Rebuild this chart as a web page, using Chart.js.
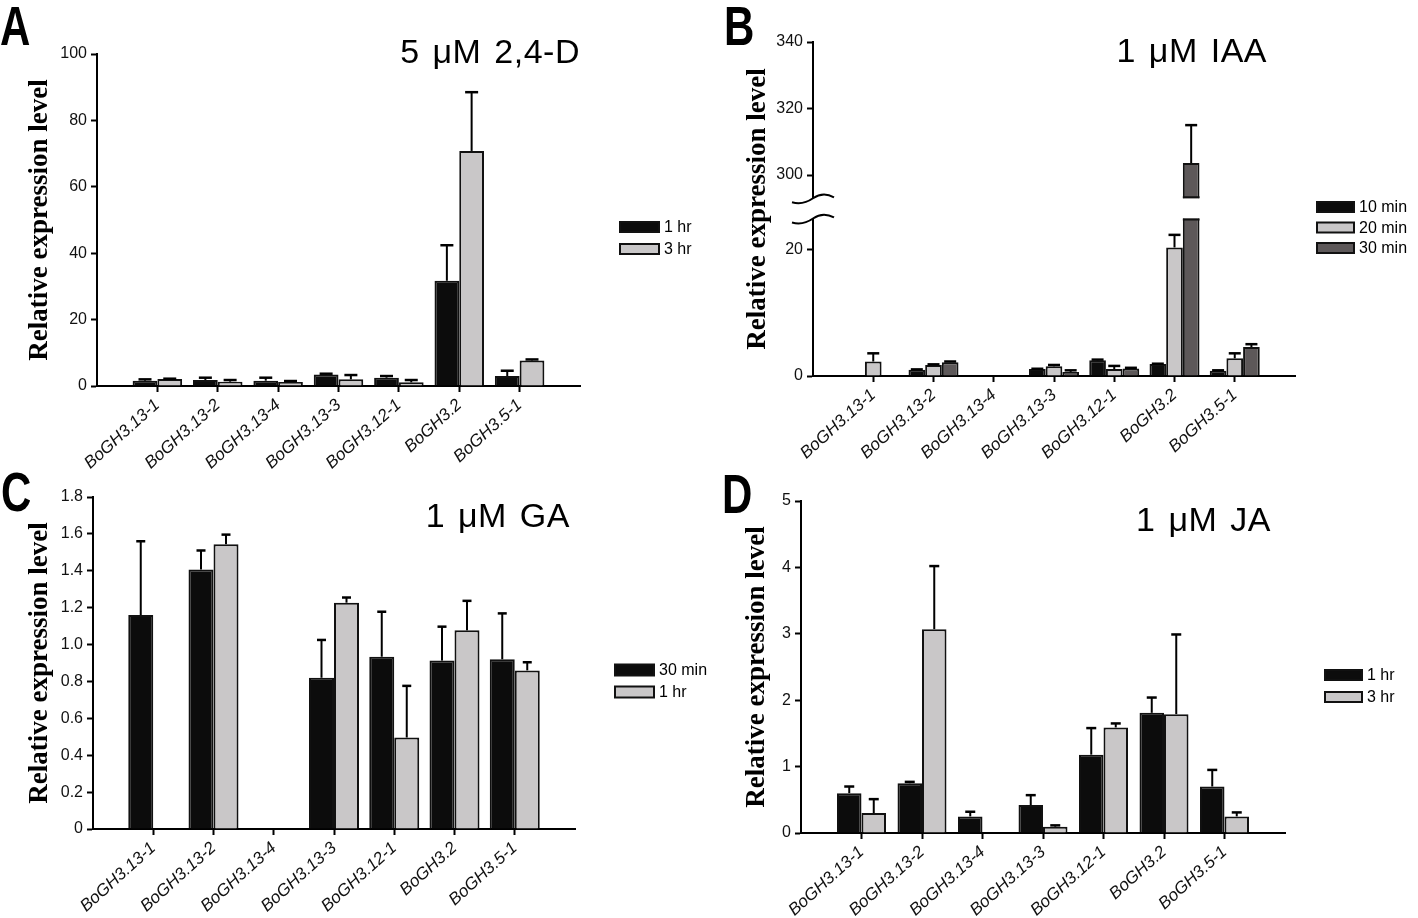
<!DOCTYPE html>
<html lang="en">
<head>
<meta charset="UTF-8">
<script src="https://cdn.jsdelivr.net/npm/chart.js"></script>
<style>
    body { margin: 0; padding: 0; width: 1418px; height: 918px; background: #fff; position: relative; overflow: hidden;
           font-family: 'Liberation Sans', Arial, sans-serif; }
    .panel { position: absolute; }
    .letter { position: absolute; font-weight: bold; font-size: 56px; line-height: 1; transform: scaleX(0.75); transform-origin: left top; color: #000; }
    .title { position: absolute; font-size: 34px; line-height: 1; letter-spacing: 0.5px; word-spacing: 3px; white-space: nowrap; color: #000; }
</style>
</head>
<body>

<div class="panel" style="left:0;top:0"><canvas id="chartA" width="709" height="470"></canvas></div>
<div class="panel" style="left:709px;top:0"><canvas id="chartB" width="709" height="470"></canvas></div>
<div class="panel" style="left:0;top:470px"><canvas id="chartC" width="709" height="448"></canvas></div>
<div class="panel" style="left:709px;top:470px"><canvas id="chartD" width="709" height="448"></canvas></div>

<div class="letter" style="left:0;top:-2px">A</div>
<div class="letter" style="left:724px;top:-2px">B</div>
<div class="letter" style="left:1px;top:464px">C</div>
<div class="letter" style="left:722px;top:466px">D</div>

<div class="title" style="right:838px;top:34px">5 μM 2,4-D</div>
<div class="title" style="right:151px;top:33px">1 μM IAA</div>
<div class="title" style="right:848px;top:498px">1 μM GA</div>
<div class="title" style="right:147px;top:502px">1 μM JA</div>

<script>
// --- DATA ---
const categories = ['BoGH3.13-1', 'BoGH3.13-2', 'BoGH3.13-4', 'BoGH3.13-3', 'BoGH3.12-1', 'BoGH3.2', 'BoGH3.5-1'];

// A: 5 uM 2,4-D
const a1hr    = [1.6, 1.8, 1.6, 3.5, 2.5, 31.7, 3.0];
const a1hrErr = [0.4, 0.7, 0.9, 0.2, 0.5, 10.7, 1.6];
const a3hr    = [2.1, 1.3, 1.2, 2.0, 1.1, 70.8, 7.7];
const a3hrErr = [0.1, 0.5, 0.3, 1.3, 0.7, 17.7, 0.3];
const aTicks  = [0, 20, 40, 60, 80, 100];

// B: 1 uM IAA (broken axis)
const b10    = [null, 1.0, null, 1.1, 2.5, 1.9, 0.85];
const b10Err = [null, 0.05, null, 0.05, 0.1, 0.05, 0.05];
const b20    = [2.3, 1.75, null, 1.55, 1.1, 20.4, 2.8];
const b20Err = [1.3, 0.1, null, 0.2, 0.5, 2.0, 0.8];
const b30    = [null, 2.2, null, 0.65, 1.2, 303.6, 4.6];
const b30Err = [null, 0.1, null, 0.25, 0.1, 11.4, 0.45];
const bTicks = [0, 20, 300, 320, 340];

// C: 1 uM GA
const c30    = [1.16, 1.407, null, 0.82, 0.934, 0.913, 0.92];
const c30Err = [0.40, 0.103, null, 0.205, 0.244, 0.184, 0.249];
const c1hr   = [null, 1.544, null, 1.227, 0.496, 1.077, 0.86];
const c1hrErr= [null, 0.052, null, 0.028, 0.28, 0.16, 0.044];
const cTicks = [0, 0.2, 0.4, 0.6, 0.8, 1.0, 1.2, 1.4, 1.6, 1.8];

// D: 1 uM JA
const d1hr    = [0.60, 0.75, 0.25, 0.42, 1.18, 1.81, 0.70];
const d1hrErr = [0.10, 0.02, 0.07, 0.15, 0.40, 0.23, 0.25];
const d3hr    = [0.30, 3.07, null, 0.095, 1.59, 1.79, 0.25];
const d3hrErr = [0.21, 0.95, null, 0.02, 0.06, 1.20, 0.06];
const dTicks  = [0, 1, 2, 3, 4, 5];

// --- STYLE ---
const FONT = "'Liberation Sans', Arial, sans-serif";
const SERIF = "'Liberation Serif', 'Times New Roman', serif";
const BLACK = '#0c0c0c', GREY = '#c9c7c8', DARK = '#5d5859';

// one empty slot each side so the axis runs a full category past the first/last gene
const pad = arr => [null, ...arr, null];
const padLabels = ['', ...categories, ''];

// linear scale with a gap between lowMax and highMin (panel B)
class BrokenLinearScale extends Chart.LinearScale {
    static id = 'brokenLinear';
    static defaults = Chart.LinearScale.defaults;
    _dec(v) {
        const { lowMax, highMin, fLow, fGap } = this.options.brk;
        if (v <= lowMax) return (v - this.min) / (lowMax - this.min) * fLow;
        if (v >= highMin) return fLow + fGap + (v - highMin) / (this.max - highMin) * (1 - fLow - fGap);
        return fLow + fGap * (v - lowMax) / (highMin - lowMax);
    }
    getPixelForValue(v) {
        if (v === null || v === undefined || isNaN(v)) return NaN;
        return this.getPixelForDecimal(this._dec(v));
    }
    getValueForPixel(p) {
        const { lowMax, highMin, fLow, fGap } = this.options.brk;
        const d = this.getDecimalForPixel(p);
        if (d <= fLow) return this.min + d / fLow * (lowMax - this.min);
        if (d >= fLow + fGap) return highMin + (d - fLow - fGap) / (1 - fLow - fGap) * (this.max - highMin);
        return lowMax + (d - fLow) / fGap * (highMin - lowMax);
    }
}
Chart.register(BrokenLinearScale);

// --- PLUGINS ---
const errorBars = {
    id: 'errorBars',
    afterDatasetsDraw(chart, args, opts) {
        const ctx = chart.ctx, y = chart.scales.y;
        ctx.save();
        ctx.strokeStyle = '#000';
        chart.data.datasets.forEach((ds, di) => {
            const meta = chart.getDatasetMeta(di);
            if (!ds.errors) return;
            meta.data.forEach((bar, i) => {
                const v = ds.data[i], e = ds.errors[i];
                if (v == null || !e) return;
                const top = y.getPixelForValue(v + e);
                ctx.lineWidth = 2;
                ctx.beginPath(); ctx.moveTo(bar.x, bar.y); ctx.lineTo(bar.x, top); ctx.stroke();
                ctx.lineWidth = 2.5;
                ctx.beginPath(); ctx.moveTo(bar.x - opts.cap / 2, top); ctx.lineTo(bar.x + opts.cap / 2, top); ctx.stroke();
            });
        });
        ctx.restore();
    }
};

const sideLegend = {
    id: 'sideLegend',
    afterDraw(chart, args, o) {
        const ctx = chart.ctx;
        ctx.save();
        chart.data.datasets.forEach((ds, i) => {
            const yc = o.y + i * o.gap;
            ctx.fillStyle = ds.backgroundColor;
            ctx.fillRect(o.x, yc - o.h / 2, o.w, o.h);
            ctx.strokeStyle = ds.borderColor; ctx.lineWidth = 2;
            ctx.strokeRect(o.x, yc - o.h / 2, o.w, o.h);
            ctx.fillStyle = '#000';
            ctx.font = '16px ' + FONT;
            ctx.textBaseline = 'middle';
            ctx.fillText(ds.label, o.x + o.w + 5, yc + 1);
        });
        ctx.restore();
    }
};

const axisBreak = {
    id: 'axisBreak',
    afterDatasetsDraw(chart) {
        const ctx = chart.ctx, y = chart.scales.y, x = chart.scales.x;
        const { lowMax, highMin } = y.options.brk;
        const yLow = y.getPixelForValue(lowMax), yHigh = y.getPixelForValue(highMin);
        ctx.save();
        ctx.fillStyle = '#fff';
        ctx.fillRect(x.left - 3, yHigh, x.right - x.left + 6, yLow - yHigh);
        chart.data.datasets.forEach((ds, di) => {
            const meta = chart.getDatasetMeta(di);
            meta.data.forEach((bar, i) => {
                const v = ds.data[i];
                if (v == null || v <= highMin) return;
                const half = bar.width / 2;
                ctx.strokeStyle = '#111'; ctx.lineWidth = 2;
                ctx.beginPath();
                ctx.moveTo(bar.x - half, yLow + 1); ctx.lineTo(bar.x + half, yLow + 1);
                ctx.moveTo(bar.x - half, yHigh - 1); ctx.lineTo(bar.x + half, yHigh - 1);
                ctx.stroke();
            });
        });
        // wavy break marks across the y axis
        const x0 = x.left;
        ctx.strokeStyle = '#000'; ctx.lineWidth = 2;
        [yHigh, yLow].forEach(yc => {
            ctx.beginPath();
            ctx.moveTo(x0 - 21, yc + 4);
            ctx.quadraticCurveTo(x0 - 10, yc + 7, x0, yc);
            ctx.quadraticCurveTo(x0 + 10, yc - 7, x0 + 21, yc - 1);
            ctx.stroke();
        });
        ctx.restore();
    }
};

// --- BUILDER ---
function makeChart(id, p) {
    const n = padLabels.length;
    return new Chart(document.getElementById(id), {
        type: 'bar',
        data: {
            labels: padLabels,
            datasets: p.series.map(s => ({
                label: s.label,
                data: pad(s.data),
                errors: pad(s.err),
                backgroundColor: s.color,
                borderColor: '#111',
                borderWidth: 2,
                categoryPercentage: p.catPct,
                barPercentage: 1.0
            }))
        },
        options: {
            responsive: false,
            animation: false,
            layout: { padding: { left: 0, top: p.top, right: p.right, bottom: 0 } },
            scales: {
                x: {
                    type: 'category',
                    offset: false,
                    ticks: {
                        autoSkip: false, minRotation: 42, maxRotation: 42, padding: 3,
                        color: '#111', font: { size: 17, style: 'italic', family: FONT }
                    },
                    grid: {
                        display: true, drawOnChartArea: false, drawTicks: true, offset: false,
                        tickLength: 6, tickWidth: 2,
                        tickColor: c => (c.index === 0 || c.index === n - 1) ? 'rgba(0,0,0,0)' : '#000'
                    },
                    border: { display: true, color: '#000', width: 2 },
                    afterFit: s => { s.height = p.xh; }
                },
                y: Object.assign({
                    min: p.ticks[0],
                    max: p.ticks[p.ticks.length - 1],
                    afterBuildTicks: axis => { axis.ticks = p.ticks.map(v => ({ value: v })); },
                    ticks: {
                        padding: 4, color: '#111', font: { size: 16, family: FONT },
                        callback: p.fmt || (v => v)
                    },
                    grid: {
                        display: true, drawOnChartArea: false, drawTicks: true,
                        tickLength: 6, tickWidth: 2, tickColor: '#000'
                    },
                    border: { display: true, color: '#000', width: 2 },
                    title: {
                        display: true, text: 'Relative expression level', color: '#000',
                        font: { family: SERIF, size: 27, weight: 'bold' },
                        padding: { top: p.titlePad, bottom: 0 }
                    },
                    afterFit: s => { s.width = p.yw; }
                }, p.yExtra || {})
            },
            plugins: {
                legend: { display: false },
                tooltip: { enabled: false },
                errorBars: { cap: p.cap },
                sideLegend: p.legend
            }
        },
        plugins: (p.extraPlugins || []).concat([errorBars, sideLegend])
    });
}

makeChart('chartA', {
    series: [
        { label: '1 hr', data: a1hr, err: a1hrErr, color: BLACK },
        { label: '3 hr', data: a3hr, err: a3hrErr, color: GREY }
    ],
    ticks: aTicks, catPct: 0.82, cap: 13,
    top: 54, right: 129, yw: 97, xh: 84, titlePad: 24,
    legend: { x: 620, y: 227, gap: 22, w: 39, h: 10 }
});

makeChart('chartB', {
    series: [
        { label: '10 min', data: b10, err: b10Err, color: BLACK },
        { label: '20 min', data: b20, err: b20Err, color: GREY },
        { label: '30 min', data: b30, err: b30Err, color: DARK }
    ],
    ticks: bTicks, catPct: 0.83, cap: 12,
    top: 42, right: 123, yw: 104, xh: 94, titlePad: 33,
    yExtra: { type: 'brokenLinear', brk: { lowMax: 25, highMin: 293, fLow: 0.4716, fGap: 0.0605 } },
    legend: { x: 608, y: 207, gap: 20.5, w: 37, h: 10 },
    extraPlugins: [axisBreak]
});

makeChart('chartC', {
    series: [
        { label: '30 min', data: c30, err: c30Err, color: BLACK },
        { label: '1 hr', data: c1hr, err: c1hrErr, color: GREY }
    ],
    ticks: cTicks, catPct: 0.83, cap: 9,
    fmt: v => v === 0 ? '0' : v.toFixed(1),
    top: 27, right: 134, yw: 93, xh: 89, titlePad: 24,
    legend: { x: 615, y: 200, gap: 22, w: 39, h: 11 }
});

makeChart('chartD', {
    series: [
        { label: '1 hr', data: d1hr, err: d1hrErr, color: BLACK },
        { label: '3 hr', data: d3hr, err: d3hrErr, color: GREY }
    ],
    ticks: dTicks, catPct: 0.81, cap: 10,
    top: 31, right: 133, yw: 92, xh: 85, titlePad: 32,
    legend: { x: 616, y: 205, gap: 22, w: 37, h: 10 }
});
</script>
</body>
</html>
